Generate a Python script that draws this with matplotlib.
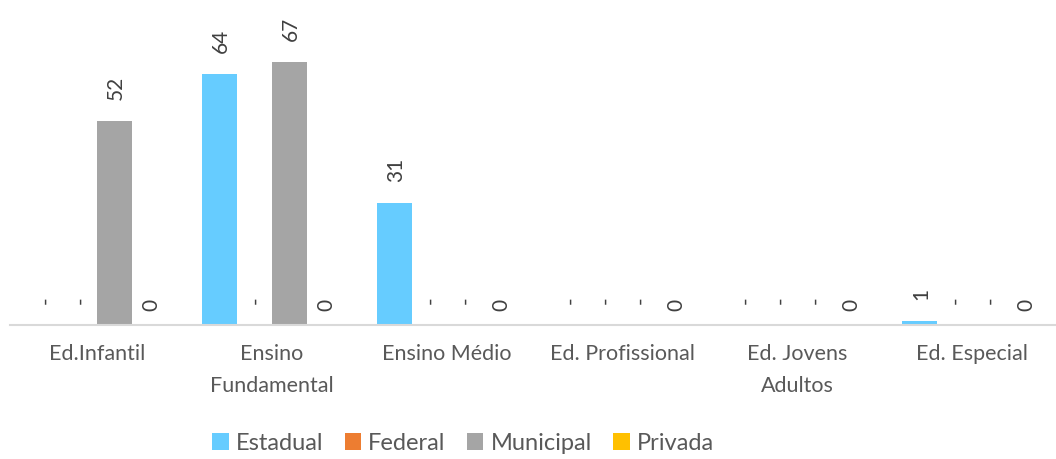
import matplotlib.pyplot as plt
import numpy as np

plt.rcParams['font.family'] = ['Lato', 'DejaVu Sans']

categories = ['Ed.Infantil', 'Ensino\nFundamental', 'Ensino Médio',
              'Ed. Profissional', 'Ed. Jovens\nAdultos', 'Ed. Especial']
series_names = ['Estadual', 'Federal', 'Municipal', 'Privada']
# None = no schools (shown as "-")
estadual = [None, 64, 31, None, None, 1]
federal = [None, None, None, None, None, None]
municipal = [52, 67, None, None, None, None]
privada = [0, 0, 0, 0, 0, 0]
colors = ['#66CCFF', '#ED7D31', '#A5A5A5', '#FFC000']

fig = plt.figure(figsize=(10.56, 4.59), dpi=100)
ax = fig.add_axes([9.5 / 1056, 134 / 459, 1050 / 1056, 314 / 459])

x = np.arange(len(categories))
width = 0.2
for i, (name, vals, col) in enumerate(zip(series_names,
                                          [estadual, federal, municipal, privada],
                                          colors)):
    pos = x + (i - 1.5) * width
    heights = [v if v is not None else 0 for v in vals]
    ax.bar(pos, heights, width * 0.995, color=col, label=name)
    for p, v in zip(pos, vals):
        if v is None:
            ax.annotate('-', (p, 0), xytext=(1, 18), textcoords='offset points',
                        rotation=90, ha='center', va='center', fontsize=15,
                        color='#404040')
        else:
            off = 10 if v == 0 else 15
            ax.annotate(str(v), (p, v), xytext=(1, off), textcoords='offset points',
                        rotation=90, ha='center', va='bottom', fontsize=15,
                        color='#404040')

ax.set_xlim(-0.5, len(categories) - 0.5)
ax.set_ylim(0, 80)
ax.set_xticks(x)
ax.set_xticklabels(categories, fontsize=15.5, color='#595959', linespacing=1.7)
ax.tick_params(axis='x', length=0, pad=14)
ax.set_yticks([])
for s in ['top', 'right', 'left']:
    ax.spines[s].set_visible(False)
ax.spines['bottom'].set_color('#D9D9D9')
ax.spines['bottom'].set_linewidth(1.5)

fig.legend(loc='center', bbox_to_anchor=(463 / 1056, 1 - 443 / 459), ncol=4,
           frameon=False, fontsize=17, handlelength=0.7, handleheight=0.75,
           handletextpad=0.3, columnspacing=0.9, labelcolor='#595959')

fig.savefig('out.png', dpi=100)
